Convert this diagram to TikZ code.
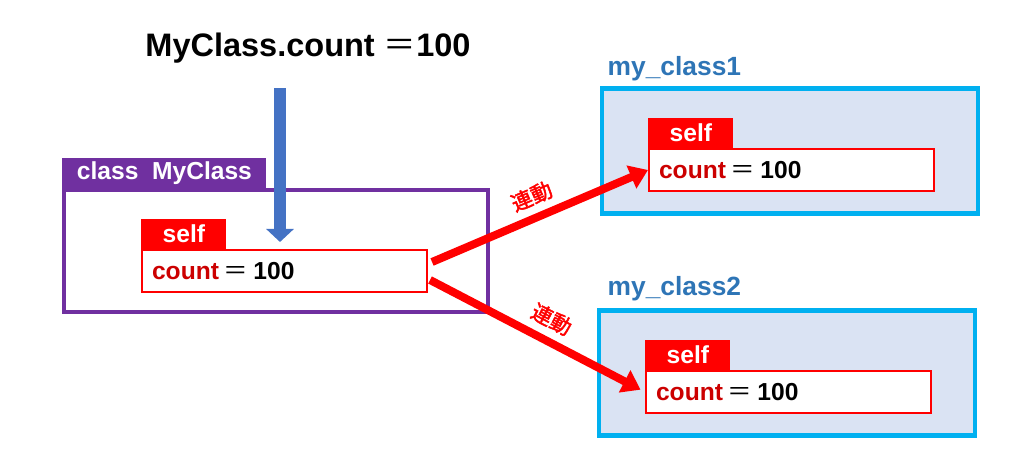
\documentclass[tikz,border=0pt]{standalone}
\usepackage{fontspec}
\setmainfont{Liberation Sans}
\newfontfamily\cjk{Noto Sans CJK JP}
\newfontfamily\cjkbold{Noto Sans CJK JP}[FakeBold=2]
\definecolor{classpurple}{RGB}{112,48,160}
\definecolor{arrowblue}{RGB}{68,114,196}
\definecolor{selfred}{RGB}{255,0,0}
\definecolor{countred}{RGB}{204,0,0}
\definecolor{instcyan}{RGB}{0,176,240}
\definecolor{instfill}{RGB}{218,227,243}
\definecolor{labelblue}{RGB}{46,117,182}
\usetikzlibrary{arrows.meta}
\newcommand{\eqsign}{{\mdseries\cjk ＝}}
\newcommand{\countline}{\textcolor{countred}{count}\hspace{0.2em}\eqsign\hspace{0.2em}100}
\newcommand{\widthfield}{5.7cm}
\newcommand{\heightfield}{0.84cm}
\newcommand{\widthtab}{1.7cm}
\newcommand{\heighttab}{0.6cm}
\tikzset{
    common/.style={rectangle, font=\bfseries\fontsize{14}{16}\selectfont},
    field/.style={common, anchor=west, draw=selfred, line width=1.2pt, fill=white,
        minimum width=\widthfield, minimum height=\heightfield,
        inner xsep=0.2cm, text width=5.3cm, align=left},
    tab/.style={common, anchor=south west, fill=selfred, text=white, inner sep=0pt,
        minimum width=\widthtab, minimum height=\heighttab},
    classbox/.style={draw=classpurple, line width=2.2pt, minimum width=8.48cm, minimum height=2.44cm},
    classtab/.style={tab, fill=classpurple, minimum width=4.08cm},
    instbox/.style={draw=instcyan, fill=instfill, line width=2.3pt, minimum width=7.54cm, minimum height=2.5cm},
    instlabel/.style={anchor=base west, text=labelblue, font=\bfseries\fontsize{15}{18}\selectfont},
    push/.style={arrowblue, line width=0.24cm, -{Triangle[width=0.54cm, length=0.26cm]}},
    link/.style={selfred, line width=0.16cm, -{Triangle[width=0.48cm, length=0.36cm]}},
    linklabel/.style={text=selfred, font=\cjkbold\fontsize{12}{14}\selectfont}
}

\begin{document}
\begin{tikzpicture}[x=0.02cm, y=0.02cm]
    \useasboundingbox (0,0) rectangle (1024,469);

    \node[font=\bfseries\fontsize{18.5}{22}\selectfont] (title) at (308,421) {MyClass.count \eqsign100};

    % class side
    \node[classbox] (cls) at (276,218) {};
    \node[classtab] (clstab) at (cls.north west) {class\ \ MyClass};
    \node[field] (cnt0) at (141,198) {\countline};
    \node[tab] (self0) at (cnt0.north west) {self};

    % instances
    \node[instbox] (inst1) at (790,318) {};
    \node[instlabel] (lbl1) at ([shift={(2,11)}]inst1.north west) {my\_class1};
    \node[field] (cnt1) at (648,299) {\countline};
    \node[tab] (self1) at (cnt1.north west) {self};

    \node[instbox] (inst2) at (787,96) {};
    \node[instlabel] (lbl2) at ([shift={(5,13)}]inst2.north west) {my\_class2};
    \node[field] (cnt2) at (645,77) {\countline};
    \node[tab] (self2) at (cnt2.north west) {self};

    \coordinate (drop) at (280,227);
    \draw[push, shorten <=0.38cm] (title.south -| drop) -- (drop);

    \draw[link] ([shift={(4,9)}]cnt0.east) -- (cnt1.west)
        node[midway, sloped, above=1pt, linklabel] {連動};
    \draw[link, shorten >=0.1cm] ([shift={(2,-9)}]cnt0.east) -- (cnt2.west)
        node[pos=0.52, sloped, above=1pt, linklabel] {連動};
\end{tikzpicture}
\end{document}
